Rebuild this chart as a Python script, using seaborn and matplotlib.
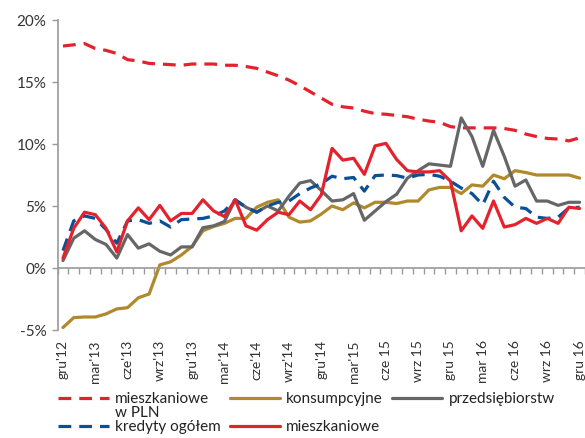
import numpy as np
import pandas as pd
import seaborn as sns
import matplotlib.pyplot as plt
from matplotlib.lines import Line2D
from matplotlib.ticker import FixedLocator, FuncFormatter

# monthly data gru'12 .. gru'16
tick_labels = ["gru'12", "mar'13", "cze'13", "wrz'13", "gru'13", "mar'14", "cze'14",
               "wrz'14", "gru'14", "mar'15", "cze 15", "wrz 15", "gru 15", "mar 16",
               "cze 16", "wrz 16", "gru 16"]

mieszk_ogolem = [17.9, 18.0, 18.1, 17.7, 17.55, 17.3, 16.8, 16.7, 16.5, 16.45, 16.4, 16.35, 16.45,
                 16.45, 16.45, 16.35, 16.35, 16.25, 16.1, 15.8, 15.5, 15.15, 14.7, 14.2, 13.7,
                 13.2, 13.0, 12.9, 12.65, 12.45, 12.4, 12.3, 12.2, 12.0, 11.85, 11.75, 11.4,
                 11.3, 11.3, 11.3, 11.3, 11.25, 11.1, 10.8, 10.6, 10.45, 10.4, 10.25, 10.5]
konsumpcyjne = [-4.8, -4.0, -3.95, -3.95, -3.7, -3.3, -3.2, -2.4, -2.1, 0.25, 0.5, 1.05, 1.75,
                3.0, 3.35, 3.6, 4.0, 4.0, 4.9, 5.3, 5.5, 4.1, 3.7, 3.8, 4.35, 5.0, 4.7, 5.25,
                4.85, 5.3, 5.3, 5.2, 5.4, 5.4, 6.3, 6.5, 6.5, 6.0, 6.7, 6.6, 7.5, 7.2, 7.85,
                7.7, 7.5, 7.5, 7.5, 7.5, 7.25]
przedsiebiorstw = [0.6, 2.4, 3.0, 2.3, 1.9, 0.8, 2.7, 1.6, 1.95, 1.35, 1.05, 1.7, 1.7,
                   3.25, 3.4, 3.75, 5.5, 4.9, 4.5, 5.0, 4.6, 5.8, 6.85, 7.05, 6.25, 5.4, 5.5,
                   6.0, 3.85, 4.6, 5.35, 5.95, 7.25, 7.85, 8.4, 8.3, 8.2, 12.1, 10.6, 8.2,
                   11.1, 9.0, 6.6, 7.1, 5.4, 5.4, 5.05, 5.3, 5.3]
ogolem_pln = [1.4, 3.8, 4.2, 4.0, 3.1, 2.0, 3.8, 3.9, 3.6, 3.8, 3.3, 3.9, 3.95,
              4.0, 4.2, 4.6, 5.5, 4.9, 4.5, 5.0, 5.3, 5.4, 6.0, 6.45, 6.8, 7.4, 7.2, 7.3,
              6.2, 7.45, 7.5, 7.45, 7.25, 7.5, 7.55, 7.4, 7.0, 6.45, 6.0, 5.1, 7.0, 5.7,
              4.9, 4.8, 4.1, 4.0, 4.1, 4.85, 4.9]
mieszk_pln = [0.8, 3.2, 4.5, 4.3, 3.2, 1.3, 3.8, 4.85, 3.9, 5.05, 3.8, 4.4, 4.4,
              5.5, 4.6, 4.15, 5.5, 3.4, 3.05, 3.9, 4.5, 4.3, 5.4, 4.7, 5.9, 9.65, 8.7,
              8.85, 7.55, 9.85, 10.05, 8.75, 7.85, 7.75, 7.75, 7.85, 7.0, 3.0, 4.2, 3.2,
              5.4, 3.3, 3.5, 4.0, 3.6, 4.0, 3.6, 4.9, 4.8]

n = len(mieszk_ogolem)
x = np.arange(n)

sns.set_style('white')
plt.rcParams['font.family'] = ['Lato', 'DejaVu Sans']

fig = plt.figure(figsize=(5.85, 4.38), dpi=100)
ax = fig.add_axes([57.6 / 585, 1 - 330 / 438, 1 - 57.6 / 585, 310 / 438])

dash = (0, (4, 2.5))
series = [
    (mieszk_ogolem, '#e4222e', dash),
    (konsumpcyjne, '#b0892c', '-'),
    (przedsiebiorstw, '#666666', '-'),
    (ogolem_pln, '#0b4f96', dash),
    (mieszk_pln, '#e4222e', '-'),
]
for vals, col, ls in series:
    df = pd.DataFrame({'m': x, 'v': vals})
    sns.lineplot(data=df, x='m', y='v', color=col, linestyle=ls, linewidth=2.3, ax=ax)

ax.set_xlim(-0.5, n - 0.5)
ax.set_ylim(-5, 20)
ax.set_xlabel('')
ax.set_ylabel('')

for s in ['top', 'right']:
    ax.spines[s].set_visible(False)
ax.spines['bottom'].set_position(('data', 0))
for s in ['bottom', 'left']:
    ax.spines[s].set_color('#9a9a9a')
    ax.spines[s].set_linewidth(1.2)

ax.set_yticks([-5, 0, 5, 10, 15, 20])
ax.yaxis.set_major_formatter(FuncFormatter(lambda v, p: '%d%%' % v))
ax.tick_params(axis='y', direction='out', length=4, width=1, color='#9a9a9a',
               labelsize=11, labelcolor='#333333', pad=4, left=True)

ax.set_xticks(x[::3])
ax.set_xticklabels(tick_labels, rotation=90, va='top', ha='center')
ax.xaxis.set_minor_locator(FixedLocator(np.arange(-0.5, n, 1.0)))
ax.tick_params(axis='x', which='major', length=0, pad=52, labelsize=10, labelcolor='#333333')
ax.tick_params(axis='x', which='minor', direction='out', length=4, width=1,
               color='#9a9a9a', bottom=True)

# legend: 2 rows x 3 columns, filled column-wise
blank = Line2D([], [], alpha=0)
hl = [ax.lines[0], ax.lines[3], ax.lines[1], ax.lines[4], ax.lines[2], blank]
lb = ['mieszkaniowe', 'kredyty ogółem', 'konsumpcyjne', 'mieszkaniowe', 'przedsiębiorstw', '']
leg = fig.legend(hl, lb, loc='upper left', bbox_to_anchor=(52 / 585, 1 - 386 / 438), ncol=3,
                 frameon=False, fontsize=11, handlelength=3.3, columnspacing=0.6,
                 handletextpad=0.4, labelspacing=0.9, borderaxespad=0, labelcolor='#222222')

# "w PLN" sits above "kredyty ogółem" like in the original
fig.canvas.draw()
r = fig.canvas.get_renderer()
bb = leg.get_texts()[1].get_window_extent(r)
fig.text(bb.x0 / fig.bbox.width, 1 - 413 / 438, 'w PLN', fontsize=11, color='#222222',
         va='center', ha='left')

fig.savefig('out.png', dpi=100)
